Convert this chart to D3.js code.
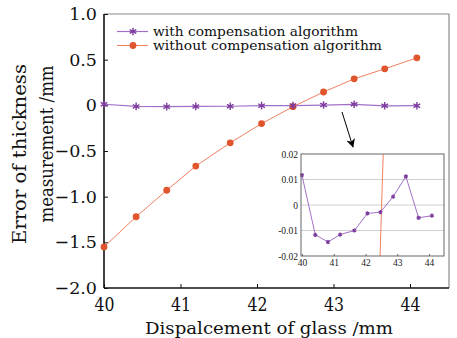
<!DOCTYPE html>
<html><head><meta charset="utf-8">
<script src="https://cdn.jsdelivr.net/npm/d3@7"></script>
<style>body{margin:0;background:#fff}svg{display:block}</style>
</head><body>
<script>
const xValues = [40, 40.42, 40.82, 41.2, 41.65, 42.06, 42.47, 42.87, 43.27, 43.67, 44.09];
const withComp = [0.0117, -0.0117, -0.0145, -0.0116, -0.0100, -0.0033, -0.0028, 0.0033, 0.0112, -0.0050, -0.0042];
const withoutComp = [-1.55, -1.22, -0.93, -0.665, -0.41, -0.20, -0.015, 0.146, 0.29, 0.40, 0.52];
const xTicks = [40, 41, 42, 43, 44];
const yTicks = [1.0, 0.5, 0, -0.5, -1.0, -1.5, -2.0];
const yTickLabels = ["1.0", "0.5", "0", "\u22120.5", "\u22121.0", "\u22121.5", "\u22122.0"];
const insetYTicks = [0.02, 0.01, 0, -0.01, -0.02];
const insetYLabels = ["0.02", "0.01", "0", "-0.01", "-0.02"];
const seriesNames = ["with compensation algorithm", "without compensation algorithm"];

const W = 457, H = 338;
const purple = "#7d3c9e", purpleLine = "#a070c8", orange = "#e0552d", orangeLine = "#f08060";
const font = "DejaVu Serif";

const svg = d3.select("body").append("svg").attr("width", W).attr("height", H);

const x = d3.scaleLinear().domain([40, 44.51]).range([104, 449]);
const y = d3.scaleLinear().domain([-2, 1]).range([288, 14]);

// frame (top/right)
svg.append("path").attr("d", `M${x(40)},${y(1)}H${x(44.51)}V${y(-2)}`)
  .attr("fill", "none").attr("stroke", "#8a8a8a").attr("stroke-width", 1.2);

// axes
const gx = svg.append("g").attr("transform", `translate(0,${y(-2)})`)
  .call(d3.axisBottom(x).tickValues(xTicks).tickSize(-4).tickPadding(10).tickFormat(d3.format("d")));
gx.select(".domain").attr("stroke", "#111").attr("stroke-width", 1.6).attr("d", `M${x(40)},0H${x(44.51)}`);
gx.selectAll(".tick line").attr("stroke", "#111").attr("stroke-width", 1);
gx.selectAll(".tick text").attr("font-family", font).attr("font-size", 18).attr("fill", "#111")
  .attr("textLength", 20).attr("lengthAdjust", "spacingAndGlyphs").attr("dy", "0.72em");

const gy = svg.append("g").attr("transform", `translate(${x(40)},0)`)
  .call(d3.axisLeft(y).tickValues(yTicks).tickSize(-4).tickPadding(7).tickFormat((d, i) => yTickLabels[i]));
gy.select(".domain").attr("stroke", "#111").attr("stroke-width", 1.6).attr("d", `M0,${y(1)}V${y(-2)}`);
gy.selectAll(".tick line").attr("stroke", "#111").attr("stroke-width", 1);
gy.selectAll(".tick text").attr("font-family", font).attr("font-size", 17.5).attr("fill", "#111");

// axis titles
svg.append("text").attr("x", 269).attr("y", 334).attr("text-anchor", "middle")
  .attr("font-family", font).attr("font-size", 17).attr("fill", "#111")
  .attr("textLength", 248).attr("lengthAdjust", "spacingAndGlyphs")
  .text("Dispalcement of glass /mm");
svg.append("text").attr("transform", "translate(26,154) rotate(-90)").attr("text-anchor", "middle")
  .attr("font-family", font).attr("font-size", 18).attr("fill", "#111")
  .attr("textLength", 180).attr("lengthAdjust", "spacingAndGlyphs")
  .text("Error of thickness");
svg.append("text").attr("transform", "translate(52.5,144) rotate(-90)").attr("text-anchor", "middle")
  .attr("font-family", font).attr("font-size", 18).attr("fill", "#111")
  .attr("textLength", 157).attr("lengthAdjust", "spacingAndGlyphs")
  .text("measurement /mm");

const star = d3.symbol().type(d3.symbolAsterisk);

function drawStar(g, cx, cy, size, color) {
  g.append("path").attr("d", star.size(size)()).attr("transform", `translate(${cx},${cy})`)
    .attr("fill", "none").attr("stroke", color).attr("stroke-width", 1.4);
}

// main lines
const lineO = d3.line().x((d, i) => x(xValues[i])).y(d => y(d));
svg.append("path").datum(withoutComp).attr("d", lineO).attr("fill", "none")
  .attr("stroke", orangeLine).attr("stroke-width", 1);
svg.append("path").datum(withComp).attr("d", lineO).attr("fill", "none")
  .attr("stroke", purpleLine).attr("stroke-width", 1.2);
svg.append("g").selectAll("circle").data(withoutComp).join("circle")
  .attr("cx", (d, i) => x(xValues[i])).attr("cy", d => y(d)).attr("r", 3.4).attr("fill", orange);
const gs = svg.append("g");
withComp.forEach((d, i) => drawStar(gs, x(xValues[i]), y(d), 40, purple));

// legend
const lg = svg.append("g");
lg.append("line").attr("x1", 117).attr("x2", 148).attr("y1", 31.5).attr("y2", 31.5).attr("stroke", purpleLine).attr("stroke-width", 1.2);
drawStar(lg, 133, 31.5, 40, purple);
lg.append("line").attr("x1", 117).attr("x2", 148).attr("y1", 45.5).attr("y2", 45.5).attr("stroke", orangeLine).attr("stroke-width", 1);
lg.append("circle").attr("cx", 133).attr("cy", 45.5).attr("r", 3.4).attr("fill", orange);
lg.append("text").attr("x", 153).attr("y", 35.5).attr("font-family", font).attr("font-size", 12.5).attr("fill", "#111")
  .attr("textLength", 205).attr("lengthAdjust", "spacingAndGlyphs").text(seriesNames[0]);
lg.append("text").attr("x", 153).attr("y", 49.5).attr("font-family", font).attr("font-size", 12.5).attr("fill", "#111")
  .attr("textLength", 229).attr("lengthAdjust", "spacingAndGlyphs").text(seriesNames[1]);

// arrow
const defs = svg.append("defs");
defs.append("marker").attr("id", "ah").attr("viewBox", "0 0 10 10").attr("refX", 9).attr("refY", 5)
  .attr("markerWidth", 9).attr("markerHeight", 9).attr("markerUnits", "userSpaceOnUse").attr("orient", "auto")
  .append("path").attr("d", "M0,0L10,5L0,10L3,5Z").attr("fill", "#000");
svg.append("line").attr("x1", 342).attr("y1", 112).attr("x2", 353).attr("y2", 147)
  .attr("stroke", "#000").attr("stroke-width", 1).attr("marker-end", "url(#ah)");

// inset
const ix = d3.scaleLinear().domain([39.97, 44.47]).range([301, 444]);
const iy = d3.scaleLinear().domain([-0.02, 0.02]).range([256, 154]);
defs.append("clipPath").attr("id", "ic").append("rect")
  .attr("x", 301).attr("y", 154).attr("width", 143).attr("height", 102);
const ig = svg.append("g");
ig.append("rect").attr("x", 301).attr("y", 154).attr("width", 143).attr("height", 102).attr("fill", "#fff");
ig.selectAll(".grid").data([0.01, 0, -0.01]).join("line")
  .attr("x1", 301).attr("x2", 444).attr("y1", d => iy(d)).attr("y2", d => iy(d))
  .attr("stroke", "#d0d0d0").attr("stroke-width", 1);
const ilineO = d3.line().x((d, i) => ix(xValues[i])).y(d => iy(d));
ig.append("path").datum(withoutComp).attr("d", ilineO).attr("fill", "none")
  .attr("stroke", orangeLine).attr("stroke-width", 1).attr("clip-path", "url(#ic)");
ig.append("path").datum(withComp).attr("d", ilineO).attr("fill", "none")
  .attr("stroke", purpleLine).attr("stroke-width", 1);
withComp.forEach((d, i) => drawStar(ig, ix(xValues[i]), iy(d), 12, purple));
ig.append("rect").attr("x", 301).attr("y", 154).attr("width", 143).attr("height", 102)
  .attr("fill", "none").attr("stroke", "#666").attr("stroke-width", 1);
const igx = ig.append("g").attr("transform", "translate(0,256)")
  .call(d3.axisBottom(ix).tickValues(xTicks).tickSize(-2).tickPadding(3).tickFormat(d3.format("d")));
igx.select(".domain").remove();
igx.selectAll(".tick line").attr("stroke", "#666");
igx.selectAll(".tick text").attr("font-family", "Liberation Serif").attr("font-size", 9.5).attr("fill", "#222");
const igy = ig.append("g").attr("transform", "translate(301,0)")
  .call(d3.axisLeft(iy).tickValues(insetYTicks).tickSize(0).tickPadding(3).tickFormat((d, i) => insetYLabels[i]));
igy.select(".domain").remove();
igy.selectAll(".tick text").attr("font-family", "Liberation Serif").attr("font-size", 9.5).attr("fill", "#222");
</script>
</body></html>
